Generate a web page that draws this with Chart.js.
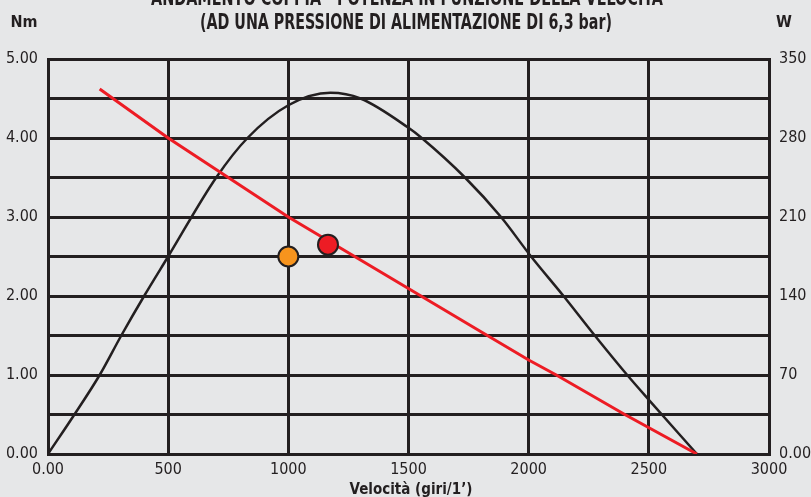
<!DOCTYPE html>
<html>
<head>
<meta charset="utf-8">
<script src="https://cdn.jsdelivr.net/npm/chart.js@4/dist/chart.umd.min.js"></script>
<style>
html,body{margin:0;padding:0;background:#e6e7e8;}
#wrap{width:811px;height:497px;position:relative;}
</style>
</head>
<body>
<div id="wrap"><canvas id="c" width="811" height="497"></canvas></div>
<script>
// ---- data ----
const titleLines = ['ANDAMENTO COPPIA - POTENZA IN FUNZIONE DELLA VELOCITÀ', '(AD UNA PRESSIONE DI ALIMENTAZIONE DI 6,3 bar)'];
const leftUnit = 'Nm';
const rightUnit = 'W';
const xTitle = 'Velocità (giri/1’)';

const xTickValues = [0, 500, 1000, 1500, 2000, 2500, 3000];
const xTickLabels = ['0.00', '500', '1000', '1500', '2000', '2500', '3000'];
const yLeftTickValues = [0, 1, 2, 3, 4, 5];
const yLeftTickLabels = ['0.00', '1.00', '2.00', '3.00', '4.00', '5.00'];
const yRightTickValues = [0, 70, 140, 210, 280, 350];
const yRightTickLabels = ['0.00', '70', '140', '210', '280', '350'];

// power curve (W, right axis)
const powerSpeed = [0, 110, 215, 305, 400, 500, 700, 830, 1000, 1175, 1300, 1500, 1555, 1735, 1885, 2010, 2145, 2275, 2410, 2500, 2700];
const powerW     = [0, 35, 70, 105, 140, 175, 245, 280, 309, 320, 315, 289, 280, 245, 210, 175, 140, 105, 70, 48, 0];

// torque line (Nm, left axis)
const torqueSpeed = [215, 500, 1000, 1800, 2000, 2115, 2400, 2700];
const torqueNm    = [4.62, 4.0, 3.0, 1.55, 1.19, 1.0, 0.5, 0];

// operating points (Nm, left axis)
const orangePoint = {speed: 1000, nm: 2.5};
const redPoint = {speed: 1165, nm: 2.65};

// ---- styles ----
const INK = '#231f20';
const RED = '#ed1c24';
const ORANGE = '#f7941d';
const BG = '#e6e7e8';
const FONT = "'Liberation Sans Narrow', 'Arial Narrow', 'DejaVu Sans Condensed', sans-serif";

const bgPlugin = {
  id: 'bg',
  beforeDraw(chart) {
    const ctx = chart.ctx;
    ctx.save();
    ctx.fillStyle = BG;
    ctx.fillRect(0, 0, chart.width, chart.height);
    ctx.restore();
  }
};

function drawCondensed(ctx, text, cx, y, targetWidth) {
  const w = ctx.measureText(text).width;
  const s = targetWidth / w;
  ctx.save();
  ctx.translate(cx, y);
  ctx.scale(s, 1);
  ctx.textAlign = 'center';
  ctx.fillText(text, 0, 0);
  ctx.restore();
}

const textPlugin = {
  id: 'texts',
  afterDraw(chart) {
    const ctx = chart.ctx;
    const a = chart.chartArea;
    const cx = (a.left + a.right) / 2;
    ctx.save();
    ctx.fillStyle = INK;
    ctx.textBaseline = 'alphabetic';
    ctx.font = "bold 21px " + FONT;
    drawCondensed(ctx, titleLines[0], 407, 5, 512);
    drawCondensed(ctx, titleLines[1], 406, 29, 412);
    ctx.textAlign = 'center';
    ctx.font = "bold 16px " + FONT;
    ctx.fillText(leftUnit, 24, 27);
    ctx.fillText(rightUnit, 784, 27);
    ctx.font = "bold 15px " + FONT;
    ctx.fillText(xTitle, 411, 494);
    ctx.restore();
  }
};

function tickCb(values, labels) {
  return function(v) {
    const i = values.indexOf(v);
    return i >= 0 ? labels[i] : '';
  };
}

const tickFont = {family: FONT, size: 16};

new Chart(document.getElementById('c'), {
  type: 'line',
  data: {
    datasets: [
      {
        label: 'Torque',
        data: torqueSpeed.map((s, i) => ({x: s, y: torqueNm[i]})),
        yAxisID: 'y',
        borderColor: RED,
        borderWidth: 3,
        pointRadius: 0,
        tension: 0,
        order: 2
      },
      {
        label: 'Power',
        data: powerSpeed.map((s, i) => ({x: s, y: powerW[i]})),
        yAxisID: 'y2',
        borderColor: INK,
        borderWidth: 2.5,
        pointRadius: 0,
        cubicInterpolationMode: 'monotone',
        order: 3
      },
      {
        label: 'P1',
        data: [{x: orangePoint.speed, y: orangePoint.nm}],
        yAxisID: 'y',
        showLine: false,
        pointRadius: 10,
        pointBackgroundColor: ORANGE,
        pointBorderColor: INK,
        pointBorderWidth: 2,
        order: 1
      },
      {
        label: 'P2',
        data: [{x: redPoint.speed, y: redPoint.nm}],
        yAxisID: 'y',
        showLine: false,
        pointRadius: 10,
        pointBackgroundColor: RED,
        pointBorderColor: INK,
        pointBorderWidth: 2,
        order: 0
      }
    ]
  },
  options: {
    responsive: false,
    animation: false,
    events: [],
    layout: {padding: {top: 59, left: 0, right: 0, bottom: 0}},
    plugins: {legend: {display: false}, tooltip: {enabled: false}, title: {display: false}},
    scales: {
      x: {
        type: 'linear', min: 0, max: 3000,
        afterFit(s) { s.height = 43; },
        ticks: {stepSize: 500, color: INK, font: tickFont, padding: 6, maxRotation: 0, autoSkip: false,
                callback: tickCb(xTickValues, xTickLabels)},
        grid: {color: INK, lineWidth: 3, drawTicks: false},
        border: {color: INK, width: 3}
      },
      y: {
        type: 'linear', position: 'left', min: 0, max: 5,
        afterFit(s) { s.width = 48; },
        ticks: {stepSize: 0.5, color: INK, font: tickFont, padding: 10, autoSkip: false,
                callback: tickCb(yLeftTickValues, yLeftTickLabels)},
        grid: {color: INK, lineWidth: 3, drawTicks: false},
        border: {color: INK, width: 3}
      },
      y2: {
        type: 'linear', position: 'right', min: 0, max: 350,
        afterFit(s) { s.width = 42; },
        ticks: {stepSize: 35, color: INK, font: tickFont, padding: 10, autoSkip: false,
                callback: tickCb(yRightTickValues, yRightTickLabels)},
        grid: {display: false, drawTicks: false},
        border: {color: INK, width: 3}
      }
    }
  },
  plugins: [bgPlugin, textPlugin]
});
</script>
</body>
</html>
